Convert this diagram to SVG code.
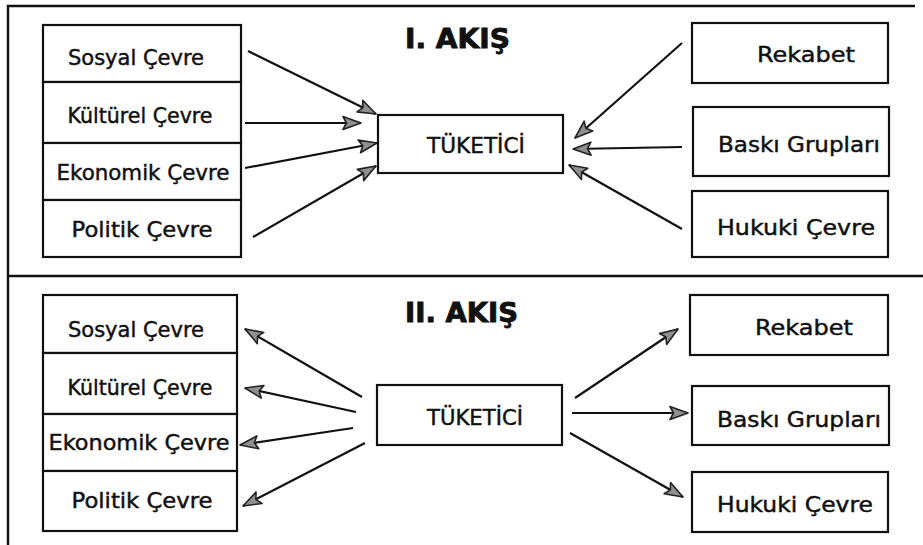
<svg xmlns="http://www.w3.org/2000/svg" width="923" height="545" viewBox="0 0 923 545">
<defs>
<style>
.bx{fill:#fff;stroke:#111;stroke-width:2.2}
.t{font-family:"DejaVu Sans",sans-serif;font-size:21px;fill:#111;stroke:#111;stroke-width:0.45;text-anchor:middle}
.h{font-family:"DejaVu Sans",sans-serif;font-weight:bold;font-size:27px;fill:#111;stroke:#111;stroke-width:0.9}
.ln{stroke:#111;stroke-width:2.2;fill:none;marker-end:url(#ah)}
.fr{stroke:#111;stroke-width:2.4;fill:none}
</style>
<marker id="ah" markerUnits="userSpaceOnUse" markerWidth="22" markerHeight="16" viewBox="0 0 22 16" refX="19" refY="8" orient="auto">
<path d="M1,1.5 L19,8 L1,14.5 L4.5,8 Z" fill="#8f8f8f" stroke="#222" stroke-width="1.6" stroke-linejoin="round"/>
</marker>
</defs>
<rect width="923" height="545" fill="#fff"/>
<g id="frame">
<path class="fr" d="M8,545 V6 H915"/>
<path class="fr" d="M8,276 H923"/>
</g>
<g id="titles">
<text class="h" x="405" y="48" textLength="105" lengthAdjust="spacingAndGlyphs">I. AKIŞ</text>
<text class="h" x="405" y="322" textLength="113" lengthAdjust="spacingAndGlyphs">II. AKIŞ</text>
</g>
<g id="connectors">
<line class="ln" x1="248" y1="51" x2="376" y2="114"/>
<line class="ln" x1="245" y1="123" x2="361" y2="123"/>
<line class="ln" x1="245" y1="168" x2="377" y2="143"/>
<line class="ln" x1="253" y1="237" x2="376" y2="166"/>
<line class="ln" x1="682" y1="43" x2="575" y2="138"/>
<line class="ln" x1="682" y1="147" x2="573" y2="149"/>
<line class="ln" x1="682" y1="229" x2="569" y2="165"/>
<line class="ln" x1="362" y1="397" x2="245" y2="329"/>
<line class="ln" x1="356" y1="412" x2="245" y2="388"/>
<line class="ln" x1="353" y1="428" x2="240" y2="445"/>
<line class="ln" x1="365" y1="443" x2="243" y2="506"/>
<line class="ln" x1="575" y1="398" x2="678" y2="329"/>
<line class="ln" x1="572" y1="413" x2="688" y2="413"/>
<line class="ln" x1="570" y1="433" x2="683" y2="497"/>
</g>
<g id="n1-sosyal"><rect class="bx" x="43" y="25" width="198" height="57"/><text class="t" x="136" y="65" textLength="136" lengthAdjust="spacingAndGlyphs">Sosyal Çevre</text></g>
<g id="n1-kulturel"><rect class="bx" x="43" y="82" width="198" height="61"/><text class="t" x="140" y="123" textLength="145" lengthAdjust="spacingAndGlyphs">Kültürel Çevre</text></g>
<g id="n1-ekonomik"><rect class="bx" x="43" y="143" width="198" height="57"/><text class="t" x="143" y="180" textLength="173" lengthAdjust="spacingAndGlyphs">Ekonomik Çevre</text></g>
<g id="n1-politik"><rect class="bx" x="43" y="200" width="198" height="57"/><text class="t" x="142" y="237" textLength="141" lengthAdjust="spacingAndGlyphs">Politik Çevre</text></g>
<g id="n1-tuketici"><rect class="bx" x="378" y="115" width="185" height="58"/><text class="t" x="476" y="153" textLength="98" lengthAdjust="spacingAndGlyphs">TÜKETİCİ</text></g>
<g id="n1-rekabet"><rect class="bx" x="692" y="23" width="196" height="60"/><text class="t" x="806" y="62" textLength="98" lengthAdjust="spacingAndGlyphs">Rekabet</text></g>
<g id="n1-baski"><rect class="bx" x="693" y="107" width="196" height="69"/><text class="t" x="799" y="152" textLength="162" lengthAdjust="spacingAndGlyphs">Baskı Grupları</text></g>
<g id="n1-hukuki"><rect class="bx" x="692" y="191" width="196" height="66"/><text class="t" x="796" y="235" textLength="158" lengthAdjust="spacingAndGlyphs">Hukuki Çevre</text></g>
<g id="n2-sosyal"><rect class="bx" x="43" y="295" width="194" height="58"/><text class="t" x="136" y="337" textLength="136" lengthAdjust="spacingAndGlyphs">Sosyal Çevre</text></g>
<g id="n2-kulturel"><rect class="bx" x="43" y="353" width="194" height="61"/><text class="t" x="140" y="395" textLength="145" lengthAdjust="spacingAndGlyphs">Kültürel Çevre</text></g>
<g id="n2-ekonomik"><rect class="bx" x="43" y="414" width="194" height="57"/><text class="t" x="139" y="450" textLength="181" lengthAdjust="spacingAndGlyphs">Ekonomik Çevre</text></g>
<g id="n2-politik"><rect class="bx" x="43" y="471" width="194" height="60"/><text class="t" x="142" y="508" textLength="141" lengthAdjust="spacingAndGlyphs">Politik Çevre</text></g>
<g id="n2-tuketici"><rect class="bx" x="377" y="385" width="185" height="60"/><text class="t" x="475" y="425" textLength="96" lengthAdjust="spacingAndGlyphs">TÜKETİCİ</text></g>
<g id="n2-rekabet"><rect class="bx" x="690" y="295" width="198" height="60"/><text class="t" x="804" y="335" textLength="98" lengthAdjust="spacingAndGlyphs">Rekabet</text></g>
<g id="n2-baski"><rect class="bx" x="692" y="386" width="197" height="59"/><text class="t" x="799" y="427" textLength="164" lengthAdjust="spacingAndGlyphs">Baskı Grupları</text></g>
<g id="n2-hukuki"><rect class="bx" x="692" y="472" width="196" height="60"/><text class="t" x="795" y="512" textLength="156" lengthAdjust="spacingAndGlyphs">Hukuki Çevre</text></g>
</svg>
